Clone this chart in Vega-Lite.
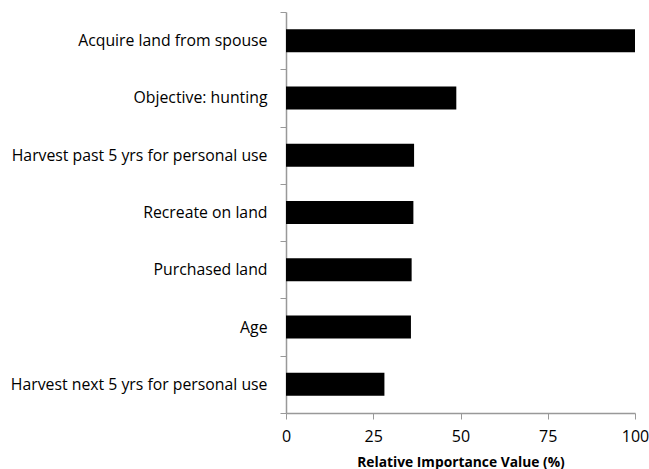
{
  "$schema": "https://vega.github.io/schema/vega-lite/v6.json",
  "autosize": "none",
  "width": 349,
  "height": 401,
  "padding": {"left": 286, "top": 12, "right": 14, "bottom": 56},
  "background": "white",
  "data": {"values": [
    {"factor": "Acquire land from spouse", "value": 100},
    {"factor": "Objective: hunting", "value": 48.8},
    {"factor": "Harvest past 5 yrs for personal use", "value": 36.7},
    {"factor": "Recreate on land", "value": 36.5},
    {"factor": "Purchased land", "value": 36.0},
    {"factor": "Age", "value": 35.8},
    {"factor": "Harvest next 5 yrs for personal use", "value": 28.2}
  ]},
  "config": {"view": {"stroke": null}, "font": "Open Sans"},
  "mark": {"type": "bar", "color": "black", "size": 23},
  "encoding": {
    "y": {
      "field": "factor", "type": "nominal", "sort": null,
      "scale": {"paddingInner": 0, "paddingOuter": 0},
      "axis": {"title": null, "tickBand": "extent", "tickSize": 6, "tickColor": "#999", "domainColor": "#999", "domainWidth": 1.5, "labelPadding": 13, "labelFontSize": 15.8, "labelColor": "#000", "labelLimit": 300}
    },
    "x": {
      "field": "value", "type": "quantitative",
      "scale": {"domain": [0, 100], "nice": false},
      "axis": {"values": [0, 25, 50, 75, 100], "grid": false, "labelFlush": false, "tickSize": 6, "tickColor": "#999", "domainColor": "#999", "domainWidth": 1.5, "labelFontSize": 16, "labelColor": "#000", "labelPadding": 9, "title": "Relative Importance Value (%)", "titleFontSize": 13.8, "titleFontWeight": "bold", "titleColor": "#000", "titlePadding": 11}
    }
  }
}
